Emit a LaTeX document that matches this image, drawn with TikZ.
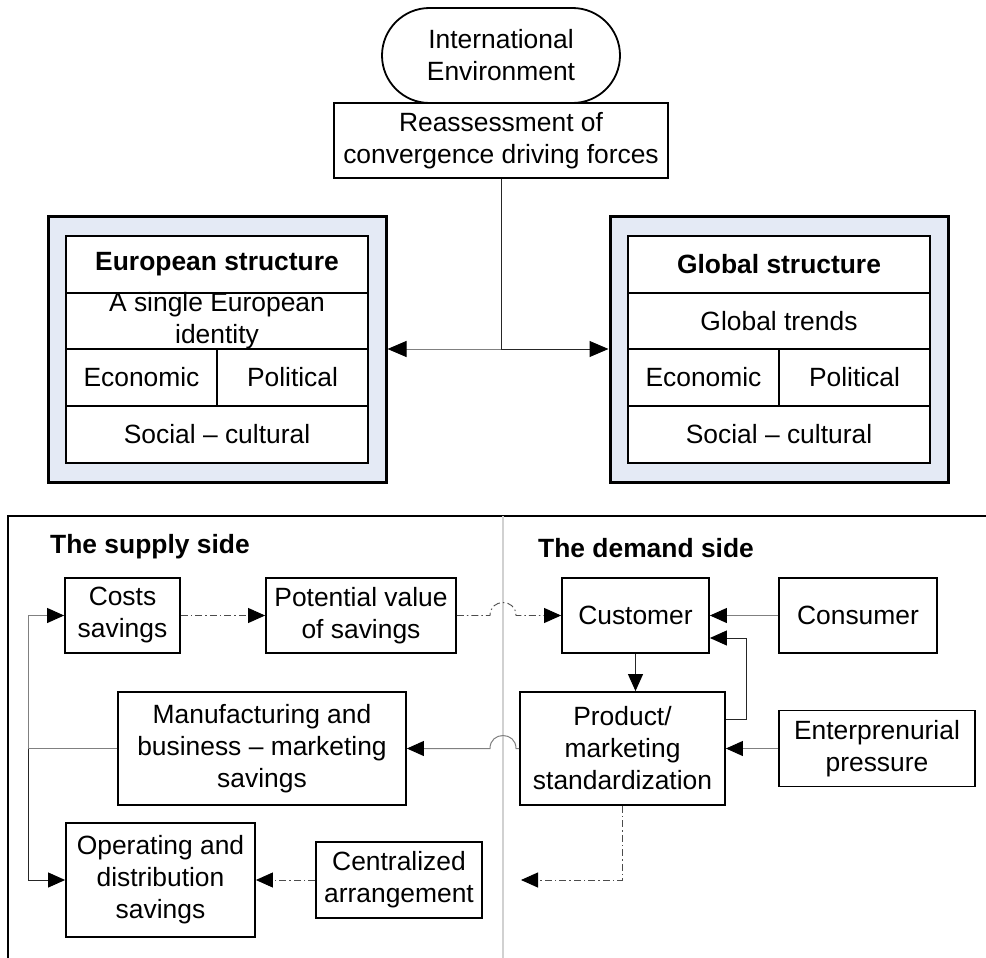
\documentclass[tikz,border=0pt]{standalone}
\usepackage{fontspec}
\setmainfont{Liberation Sans}
\usetikzlibrary{arrows.meta,calc,shapes.misc}
\definecolor{blueback}{RGB}{228,234,245}
\begin{document}
\begin{tikzpicture}[x=1pt,y=-1pt,
  font=\fontsize{26.4}{32}\selectfont,
  box/.style={draw, line width=1.8pt, fill=white, inner sep=0pt, align=center},
  outerbox/.style={draw, line width=3pt, fill=blueback, inner sep=0pt},
  conn/.style={line width=1pt, draw=black!85},
  lconn/.style={line width=1pt, draw=black!50},
  dd/.style={line width=0.9pt, draw=black!70, dash pattern=on 7pt off 3pt on 1.5pt off 3pt},
  tip/.style={-{Triangle[length=17pt,width=15pt,color=black,fill=black]}},
  bigtip/.style={-{Triangle[length=19pt,width=16pt,color=black,fill=black]}},
  title/.style={font=\fontsize{26.4}{32}\selectfont\bfseries},
]
\useasboundingbox (0,0) rectangle (986,958);

% ---------- top part ----------
\node[box, minimum width=334pt, minimum height=75pt] (reas) at (501,140.5)
  {Reassessment of\\convergence driving forces};
\node[draw, line width=1.8pt, fill=white, rounded rectangle, inner sep=0pt,
  minimum width=238pt, minimum height=95pt, align=center] (intl) at (501,55.5)
  {International\\Environment};

% European structure
\node[outerbox, minimum width=338pt, minimum height=266pt] (eur) at (217,349) {};
\node[box, title, minimum width=302pt, minimum height=57pt] (eurt) at (217,264.5) {European structure};
\node[box, minimum width=302pt, minimum height=56pt] (euri) at (217,321) {A single European\\identity};
\node[box, minimum width=151pt, minimum height=57pt] (eure) at (141.5,377.5) {Economic};
\node[box, minimum width=151pt, minimum height=57pt] (eurp) at (292.5,377.5) {Political};
\node[box, minimum width=302pt, minimum height=57pt] (eurs) at (217,434.5) {Social -- cultural};

% Global structure
\node[outerbox, minimum width=338pt, minimum height=266pt] (glob) at (779,349) {};
\node[box, title, minimum width=302pt, minimum height=57pt] (globt) at (779,264.5) {Global structure};
\node[box, minimum width=302pt, minimum height=56pt] (globi) at (779,321) {Global trends};
\node[box, minimum width=151pt, minimum height=57pt] (globe) at (703.5,377.5) {Economic};
\node[box, minimum width=151pt, minimum height=57pt] (globp) at (854.5,377.5) {Political};
\node[box, minimum width=302pt, minimum height=57pt] (globs) at (779,434.5) {Social -- cultural};

\coordinate (junc) at (reas.south |- eur.east);
\draw[lconn,bigtip] (junc) -- (eur.east);
\draw[conn,bigtip] (reas.south) |- (glob.west);

% ---------- bottom part ----------
\draw[line width=2pt] (8,958) -- (8,516) -- (986,516);
\draw[line width=1.2pt, black!18] (503,516) -- (503,958);

\node[title, anchor=west, inner sep=0pt] (supply) at (50,547) {The supply side};
\node[title, anchor=west, inner sep=0pt] (demand) at (538,548) {The demand side};

\node[box, minimum width=115pt, minimum height=75pt] (cost) at (122.5,615.5) {Costs\\savings};
\node[box, minimum width=190pt, minimum height=75pt] (pot) at (361,615.5) {Potential value\\of savings};
\node[box, minimum width=147pt, minimum height=75pt] (cust) at (635.5,615.5) {Customer};
\node[box, minimum width=158pt, minimum height=75pt] (cons) at (858,615.5) {Consumer};
\node[box, minimum width=205pt, minimum height=113pt] (prod) at (622.5,748.5) {Product/\\marketing\\standardization};
\node[box, minimum width=196pt, minimum height=76pt] (ent) at (877,748.5) {Enterprenurial\\pressure};
\node[box, minimum width=288pt, minimum height=113pt] (manu) at (262,748.5) {Manufacturing and\\business -- marketing\\savings};
\node[box, minimum width=189pt, minimum height=114pt] (oper) at (160.5,880) {Operating and\\distribution\\savings};
\node[box, minimum width=166pt, minimum height=76pt] (cent) at (399,880) {Centralized\\arrangement};

% connectors
\draw[dd,tip] (cost.east) -- (pot.west);
\coordinate (h1) at (490,615.5);
\coordinate (h2) at (516,615.5);
\draw[dd,tip] (pot.east) -- (h1) .. controls +(0,-17.3) and +(0,-17.3) .. (h2) -- (cust.west);
\draw[lconn,tip] (cons.west) -- (cust.east);
\draw[conn,tip] (cust.south) -- (cust.south |- prod.north);
\coordinate (fb1) at (746,719);
\coordinate (fb2) at (746,638);
\draw[conn,tip] (prod.east |- fb1) -- (fb1) -- (fb2) -- (cust.east |- fb2);
\draw[lconn,tip] (ent.west) -- (prod.east |- ent.west);
\coordinate (h3) at (490,748.5);
\coordinate (h4) at (516,748.5);
\draw[lconn,tip] (prod.west) -- (h4) .. controls +(0,-17.3) and +(0,-17.3) .. (h3) -- (manu.east);
\coordinate (lb) at (28,748.5);
\draw[lconn,tip] (manu.west) -- (lb) |- (cost.west);
\draw[conn,tip] (lb) |- (oper.west);
\draw[dd,tip] (cent.west) -- (oper.east);
\coordinate (pe) at (521,880);
\draw[dd,tip] (prod.south) |- (pe);
\end{tikzpicture}
\end{document}
